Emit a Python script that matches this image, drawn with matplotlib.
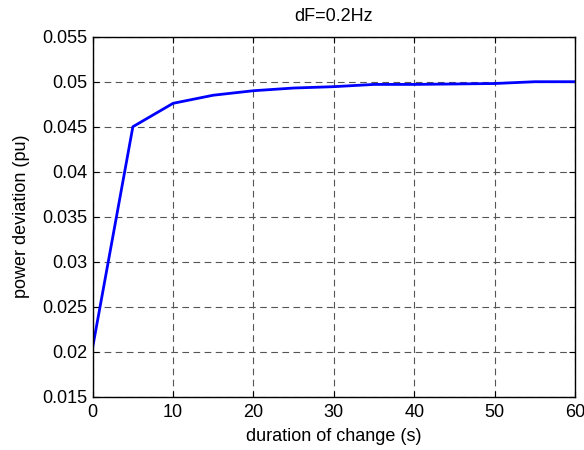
import matplotlib
matplotlib.use("Agg")
import matplotlib.pyplot as plt

duration = [0, 5, 10, 15, 20, 25, 30, 35, 40, 45, 50, 55, 60]
power_dev = [0.0205, 0.045, 0.0476, 0.0485, 0.0490, 0.0493, 0.04945, 0.0497, 0.0497, 0.04975, 0.0498, 0.0500, 0.0500]
xticks = [0, 10, 20, 30, 40, 50, 60]
yticks = [0.015, 0.02, 0.025, 0.03, 0.035, 0.04, 0.045, 0.05, 0.055]
ytick_labels = ["0.015", "0.02", "0.025", "0.03", "0.035", "0.04", "0.045", "0.05", "0.055"]

plt.rcParams['font.family'] = ['Liberation Sans', 'DejaVu Sans']
fig = plt.figure(figsize=(5.84, 4.5), dpi=100)
ax = fig.add_axes([0.1587, 0.1184, 0.8259, 0.8])
ax.plot(duration, power_dev, color=(0, 0, 1), linewidth=2)
ax.set_xlim(0, 60)
ax.set_ylim(0.015, 0.055)
ax.set_xticks(xticks)
ax.set_yticks(yticks)
ax.set_yticklabels(ytick_labels)
ax.grid(True, color='#555555', linestyle=(0, (6, 4)), linewidth=0.8)
ax.tick_params(direction='in', top=True, right=True, labelsize=13, length=4)
ax.tick_params(axis='x', pad=5)
ax.tick_params(axis='y', pad=4)
for s in ax.spines.values():
    s.set_linewidth(1.0)
ax.set_xlabel('duration of change (s)', fontsize=13, labelpad=5)
ax.set_ylabel('power deviation (pu)', fontsize=13, labelpad=9)
ax.set_title('dF=0.2Hz', fontsize=13, pad=11)
fig.savefig('out.png', dpi=100)
